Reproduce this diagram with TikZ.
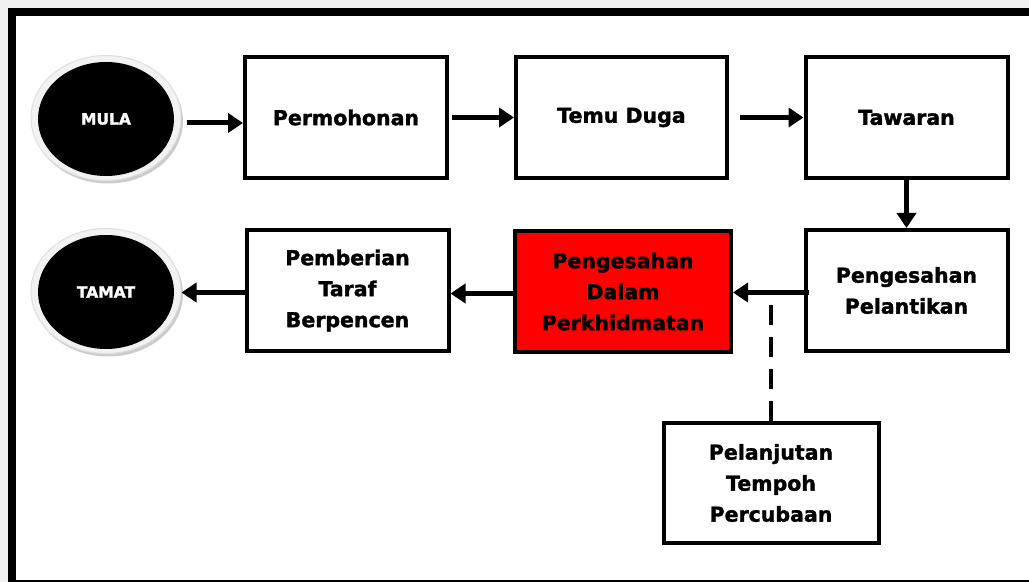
\documentclass[tikz,border=0pt]{standalone}
\usepackage{fontspec}
\setmainfont[BoldFeatures={FakeBold=1.6}]{DejaVu Sans}
\usetikzlibrary{arrows.meta,shapes,calc}

\begin{document}
\begin{tikzpicture}[x=0.5pt,y=-0.5pt,
    stage/.style={draw, line width=2pt, minimum width=101pt, minimum height=60.5pt,
      align=center, inner sep=0pt, font=\bfseries\fontsize{10.25}{15.5}\selectfont},
    ring/.style={ellipse, fill=gray!10, draw=gray!25, line width=0.5pt,
      minimum width=75pt, minimum height=62.5pt},
    ringshadow/.style={ellipse, fill=gray!40, minimum width=75pt, minimum height=62.5pt},
    terminal/.style={ellipse, fill=black, text=white, minimum width=68pt, minimum height=57pt,
      inner sep=0pt, font=\bfseries\fontsize{7.75}{9}\selectfont},
    flow/.style={line width=2.5pt, -{Triangle[length=7.5pt,width=9.5pt]}},
    hold/.style={line width=2pt, dash pattern=on 10pt off 6pt}]
      \useasboundingbox (0,0) rectangle (1029,582);
      % Draw page and frame
      \fill [gray!12] (0,0) rectangle (1029,582);
      \draw [line width=4pt, fill=white] (12,12) rectangle (1045,584);
      % Start and end
      \foreach \n/\t/\y in {mula/MULA/119, tamat/TAMAT/292} {
        \node [ringshadow] (\n-s) at (108,\y+2) {};
        \node [ring] (\n-r) at (106,\y-1) {};
        \node [terminal] (\n) at (106,\y) {\t};
      }
      % Stages
      \node [stage] (perm) at (346,117.5) {Permohonan};
      \node [stage, minimum width=105.5pt] (temu) at (621.5,117.5) {Temu Duga};
      \node [stage] (tawaran) at (906.5,117.5) {Tawaran};
      \node [stage] (lantik) at (906.5,290.5) {Pengesahan\\Pelantikan};
      \node [stage, fill=red, minimum width=108pt] (sah) at (623,291.5) {Pengesahan\\Dalam\\Perkhidmatan};
      \node [stage] (taraf) at (347.5,290.5) {Pemberian\\Taraf\\Berpencen};
      \node [stage, minimum width=107.5pt, minimum height=60pt] (lanjut) at (771,483) {Pelanjutan\\Tempoh\\Percubaan};
      % Draw top row
      \draw [flow] ([xshift=2.5pt,yshift=-2.5pt]mula-r.east) -- ([yshift=-2.5pt]mula-r.east -| perm.west);
      \draw [flow, shorten <=1.5pt] (perm) -- (temu);
      \draw [flow, shorten <=5.5pt] (temu) -- (tawaran);
      \draw [flow] (tawaran) -- (lantik);
      % Draw bottom row
      \coordinate (join) at ([yshift=-1pt]lantik.west -| lanjut.north);
      \draw [flow, shorten <=-2.75pt] ([yshift=-1pt]lantik.west) -- ([yshift=-1pt]lantik.west -| sah.east);
      \draw [hold] (lanjut.north) -- (join);
      \draw [flow] ([yshift=-1pt]sah.west) -- ([yshift=-1pt]sah.west -| taraf.east);
      \draw [flow] ([yshift=-1pt]taraf.west) -- ([yshift=-1pt]taraf.west -| tamat-r.east);
\end{tikzpicture}
\end{document}
